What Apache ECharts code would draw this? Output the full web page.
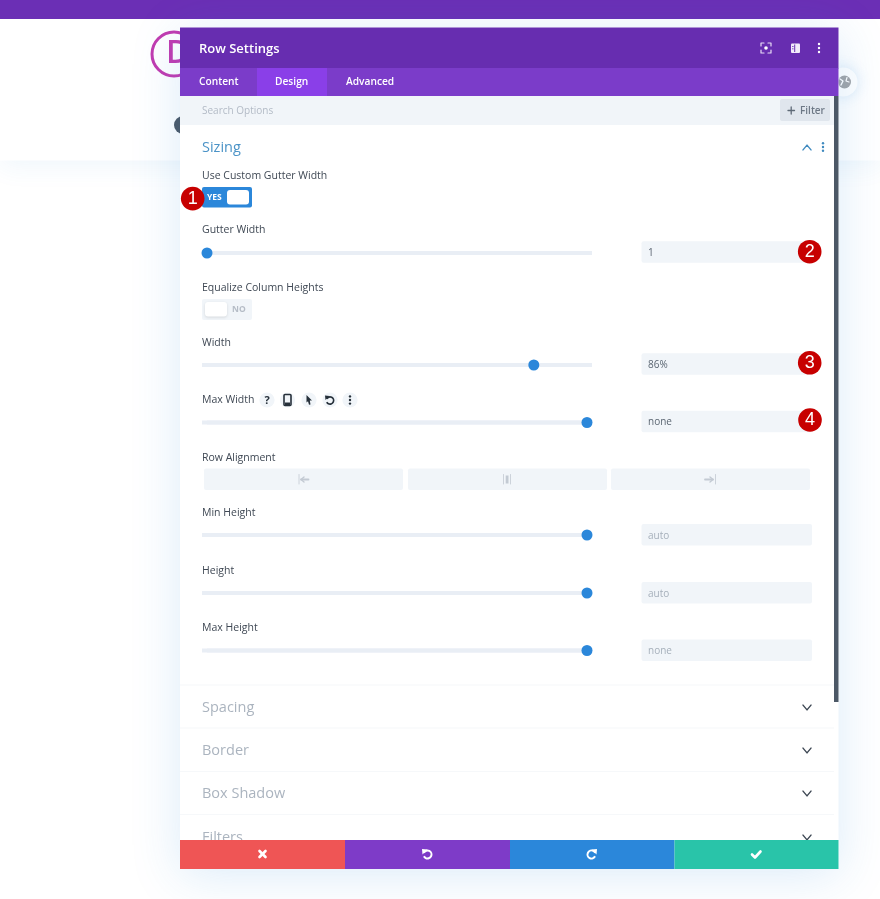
<!DOCTYPE html>
<html lang="en">
  <head>
    <meta charset="UTF-8" />
    <title>Row Settings</title>
    <style>
      html, body { margin: 0; padding: 0; background: #fff; }
      #chart { width: 880px; height: 899px; }
    </style>
  </head>
  <body>
    <div id="chart"></div>
    <script src="https://cdn.jsdelivr.net/npm/echarts@6/dist/echarts.min.js"></script>
    <script>
      const tabLabels = ["Content", "Design", "Advanced"];
      const sliderLabels = ["Gutter Width", "Width", "Max Width", "Min Height", "Height", "Max Height"];
      const sliderValues = [0, 86, 100, 100, 100, 100];
      const inputTexts = ["1", "86%", "none", "auto", "auto", "none"];
      const sectionLabels = ["Spacing", "Border", "Box Shadow", "Filters"];

      const sliderY = [253, 365, 422.5, 535, 593, 650.5];
      const sectionY = [707, 750, 793, 837];
      const FONT = '"Open Sans", sans-serif';
      const BLUE = "#2b87da";
      const FIELD = "#f1f5f9";

      const els = [];
      function rect(x, y, w, h, fill, extra) {
        els.push({ type: "rect", shape: Object.assign({ x, y, width: w, height: h }, extra && extra.shape), style: Object.assign({ fill }, extra && extra.style) });
      }
      function circle(cx, cy, r, fill, stroke, lineWidth, extra) {
        els.push({ type: "circle", shape: { cx, cy, r }, style: Object.assign({ fill: fill || "none", stroke: stroke || null, lineWidth: lineWidth || 0 }, extra) });
      }
      // canvas middle sits about 1px above the reference's text centres
      function text(x, y, s, size, fill, weight, align, family) {
        els.push({ type: "text", x, y: y + 1, style: { text: s, fontSize: size, fontWeight: weight || 400, fontFamily: family || FONT, fill, align: align || "left", verticalAlign: "middle" } });
      }
      function line(points, stroke, lineWidth) {
        els.push({ type: "polyline", shape: { points }, style: { fill: "none", stroke, lineWidth: lineWidth || 1.5, lineCap: "round", lineJoin: "round" } });
      }
      function arc(cx, cy, r, startAngle, endAngle, stroke, lineWidth) {
        els.push({ type: "arc", shape: { cx, cy, r, startAngle, endAngle }, style: { fill: "none", stroke, lineWidth } });
      }
      function dots(x, y, color, r, gap) {
        circle(x, y - gap, r, color);
        circle(x, y, r, color);
        circle(x, y + gap, r, color);
      }
      function badge(cx, cy, n) {
        circle(cx, cy, 11.8, "#c70000");
        text(cx, cy - 0.5, n, 18, "#fff", 400, "center", '"Liberation Sans", sans-serif');
      }
      function chevron(x, y, color, up) {
        const d = up ? -2.4 : 2.4;
        line([[x - 4, y - d], [x, y + d], [x + 4, y - d]], color, 1.4);
      }

      // page behind the modal
      rect(0, 160, 880, 739, "#fff");
      rect(0, 19, 880, 141.5, "#fff", { style: { shadowBlur: 24, shadowColor: "rgba(43,135,218,0.07)", shadowOffsetY: 6 } });
      rect(0, 0, 880, 19, "#6b2fb5");
      circle(174, 54, 22, "#fff", "#c23bb0", 3);
      text(166, 53, "D", 32, "#c23bb0", 600);
      circle(183, 125, 9, "#4c5866");
      circle(843, 82, 14.5, "#fff", null, 0, { shadowBlur: 14, shadowColor: "rgba(43,135,218,0.18)" });
      circle(844.5, 82, 6.5, "#a3a5a8");
      line([[840, 79], [843, 81], [841, 85]], "#fff", 1.4);
      line([[847, 77.5], [846, 81], [849, 82]], "#fff", 1.2);

      // modal
      rect(180, 27.5, 658.5, 841.5, "#fff", { style: { shadowBlur: 46, shadowColor: "rgba(43,135,218,0.17)", shadowOffsetY: 6 } });
      rect(180, 27.5, 658.5, 41, "#672db0");
      rect(180, 68, 658.5, 28, "#7b3cc9");
      rect(257, 68, 70, 28, "#8a3fe8");
      text(199, 48, "Row Settings", 13, "#fff", 600);
      [199, 275, 346].forEach((x, i) => text(x, 81.5, tabLabels[i], 10.2, "#fff", 600));

      // header icons
      [[-5, -2, -5, -5, -2, -5], [2, -5, 5, -5, 5, -2], [5, 2, 5, 5, 2, 5], [-2, 5, -5, 5, -5, 2]].forEach((c) =>
        line([[766 + c[0], 48 + c[1]], [766 + c[2], 48 + c[3]], [766 + c[4], 48 + c[5]]], "#e8dcf6", 1.2)
      );
      circle(766, 48, 1.8, "#fff");
      rect(791, 43.5, 9, 9.5, "#f2ecfa", { shape: { r: 1 } });
      rect(794.2, 44.5, 1, 7.5, "#672db0");
      rect(792, 46, 1.6, 0.8, "#672db0");
      rect(792, 48.5, 1.6, 0.8, "#672db0");
      dots(819, 48, "#fff", 1.2, 4);

      // search row
      rect(180, 96, 654, 29, FIELD);
      text(202, 110.5, "Search Options", 10, "#b3bbc6", 400);
      rect(780, 99, 50, 22, "#e0e6ed", { shape: { r: 2 } });
      line([[788, 110.5], [794.5, 110.5]], "#5f6b78", 1.3);
      line([[791.2, 107], [791.2, 114]], "#5f6b78", 1.3);
      text(800, 110, "Filter", 10, "#6d7885", 600);

      // scrollbar
      rect(834, 96, 4.5, 606, "#4c5866");

      // sizing section
      text(202, 147, "Sizing", 14.5, "#4b93c7", 400);
      chevron(807, 147.5, "#3f8abf", true);
      dots(823, 147, "#3f8abf", 1.2, 3.7);

      text(202, 175, "Use Custom Gutter Width", 10.5, "#3f4854", 500);
      rect(202, 187, 50, 20.5, BLUE, { shape: { r: 2 } });
      rect(227, 190, 22, 14.5, "#fff", { shape: { r: 3 } });
      text(207, 197, "YES", 8.5, "#fff", 700);
      badge(192.7, 198.6, "1");

      const labelY = [229, 342, 399, 512.5, 570, 627.5];
      labelY.forEach((y, i) => text(202, y, sliderLabels[i], 10.5, "#3f4854", 500));

      text(202, 287, "Equalize Column Heights", 10.5, "#3f4854", 500);
      text(202, 457, "Row Alignment", 10.5, "#3f4854", 500);
      rect(202, 299, 50, 21, FIELD, { shape: { r: 2 } });
      rect(205, 302, 22, 14.5, "#fff", { shape: { r: 3 }, style: { shadowBlur: 3, shadowColor: "rgba(0,0,0,0.12)", shadowOffsetY: 1 } });
      text(232, 309, "NO", 8.5, "#b5bcc6", 700);

      // value fields, the lower three sit slightly lower against their sliders
      const inputColors = ["#5b6672", "#5b6672", "#5b6672", "#a6b0bb", "#a6b0bb", "#a6b0bb"];
      sliderY.forEach((y, i) => {
        const nudge = i > 2 ? 0.8 : 0;
        rect(641.5, y - 11.7 + nudge, 170.5, 21.5, FIELD, { shape: { r: 2 } });
        text(648, y - 1 + nudge, inputTexts[i], 10, inputColors[i], 400);
      });
      badge(809.7, 251.7, "2");
      badge(809.7, 362.8, "3");
      badge(810, 420, "4");

      // max width tool icons
      [267, 287.5, 309, 330, 350].forEach((x) => circle(x, 400, 7.6, FIELD));
      text(267, 399.5, "?", 11, "#26303a", 700, "center");
      rect(284, 394.5, 7, 11, "none", { shape: { r: 1 }, style: { stroke: "#26303a", lineWidth: 1.6 } });
      rect(285, 402.5, 5, 2.5, "#26303a");
      els.push({ type: "polygon", shape: { points: [[306.5, 395], [312, 400.5], [309.8, 400.6], [310.5, 404.5], [309, 404.8], [308, 401.2], [306.5, 402.5]] }, style: { fill: "#26303a" } });
      arc(330, 400.5, 3.6, -Math.PI * 0.85, Math.PI * 0.85, "#26303a", 1.7);
      els.push({ type: "polygon", shape: { points: [[325, 395.5], [329.5, 396], [325.5, 400]] }, style: { fill: "#26303a" } });
      dots(350, 400, "#26303a", 1.2, 3.6);

      // row alignment buttons
      [204, 408, 611].forEach((x) => rect(x, 468.5, 199, 21.5, FIELD, { shape: { r: 2 } }));
      line([[299, 474.5], [299, 484]], "#ccd2da", 1);
      line([[308.5, 479.5], [301, 479.5]], "#c3cad3", 1.8);
      line([[304, 477], [301, 479.5], [304, 482]], "#c3cad3", 1.4);
      line([[503.5, 474.5], [503.5, 484]], "#ccd2da", 1);
      line([[510.5, 474.5], [510.5, 484]], "#ccd2da", 1);
      rect(505.7, 475.5, 2.8, 8, "#c3cad3");
      line([[705, 479.5], [713, 479.5]], "#c3cad3", 1.8);
      line([[710, 477], [713, 479.5], [710, 482]], "#c3cad3", 1.4);
      line([[715.5, 474.5], [715.5, 484]], "#ccd2da", 1);

      // collapsed sections
      [684.5, 727.5, 771, 814].forEach((y) => rect(180, y, 654, 1, "#f6f8fa"));
      sectionLabels.forEach((label, i) => {
        text(202, sectionY[i], label, 14.5, "#abb4bf", 400);
        chevron(807, sectionY[i] + 0.5, "#3c4652", false);
      });

      // footer buttons
      rect(180, 840, 165, 29, "#ef5555");
      rect(345, 840, 165, 29, "#7e3bc8");
      rect(510, 840, 164.5, 29, BLUE);
      rect(674.5, 840, 164, 29, "#29c4a9");
      line([[259.5, 851], [265.5, 857]], "#fff", 2.6);
      line([[265.5, 851], [259.5, 857]], "#fff", 2.6);
      arc(427.5, 854.5, 4, -Math.PI * 0.85, Math.PI * 0.85, "#fff", 2);
      els.push({ type: "polygon", shape: { points: [[422, 849], [427.5, 849.5], [422.5, 854.5]] }, style: { fill: "#fff" } });
      arc(591.5, 854.5, 4, Math.PI * 0.15, Math.PI * 1.85, "#fff", 2);
      els.push({ type: "polygon", shape: { points: [[597, 849], [591.5, 849.5], [596.5, 854.5]] }, style: { fill: "#fff" } });
      line([[752, 854.5], [755, 857.5], [760.5, 851.5]], "#fff", 2.6);

      // sliders: the thumb sits 5px inside each end of the track
      const grids = sliderY.map((y) => ({ left: 202, width: 390, top: y - 2, height: 4 }));
      const xAxes = sliderY.map((y, i) => ({ type: "value", gridIndex: i, min: -1.316, max: 101.316, show: false }));
      const yAxes = sliderY.map((y, i) => ({ type: "category", gridIndex: i, data: [sliderLabels[i]], show: false }));
      const series = [];
      sliderValues.forEach((v, i) => {
        series.push({
          type: "bar",
          xAxisIndex: i,
          yAxisIndex: i,
          barWidth: 4,
          data: [v],
          silent: true,
          showBackground: true,
          backgroundStyle: { color: "#e9eef5" },
          itemStyle: { color: "#e9eef5" }
        });
        series.push({
          type: "scatter",
          xAxisIndex: i,
          yAxisIndex: i,
          symbolSize: 11,
          clip: false,
          silent: true,
          z: 5,
          data: [[v, sliderLabels[i]]],
          itemStyle: { color: BLUE, opacity: 1 }
        });
      });

      const myChart = echarts.init(document.getElementById("chart"));
      myChart.setOption({
        animation: false,
        backgroundColor: "#fff",
        graphic: { elements: els },
        grid: grids,
        xAxis: xAxes,
        yAxis: yAxes,
        series: series
      });
    </script>
  </body>
</html>
